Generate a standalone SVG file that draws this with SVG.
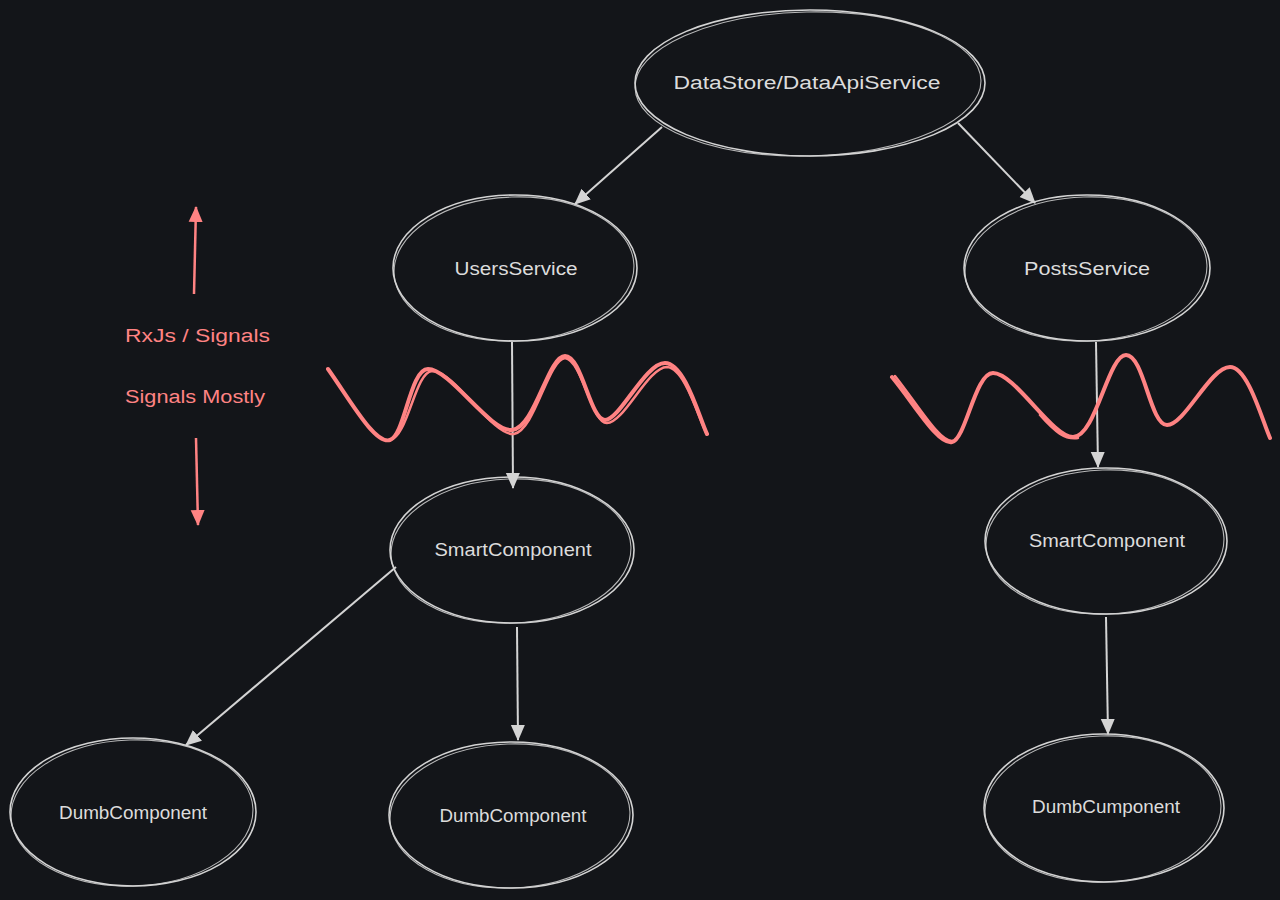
<svg xmlns="http://www.w3.org/2000/svg" width="1280" height="900" viewBox="0 0 1280 900">
<defs>
<marker id="ah" viewBox="0 0 10 10" refX="9" refY="5" markerWidth="7" markerHeight="7" orient="auto" markerUnits="userSpaceOnUse">
<path d="M0,0 L10,5 L0,10 z" fill="#d4d4d4"/>
</marker>
<marker id="ahr" viewBox="0 0 10 10" refX="9" refY="5" markerWidth="8" markerHeight="8" orient="auto" markerUnits="userSpaceOnUse">
<path d="M0,0 L10,5 L0,10 z" fill="#ff8383"/>
</marker>
<marker id="ah2" viewBox="0 0 16 16" refX="15" refY="8" markerWidth="16" markerHeight="16" orient="auto" markerUnits="userSpaceOnUse">
<path d="M0,1 L16,8 L0,15 z" fill="#d4d4d4"/>
</marker>
<marker id="ahr2" viewBox="0 0 16 16" refX="15" refY="8" markerWidth="16" markerHeight="16" orient="auto" markerUnits="userSpaceOnUse">
<path d="M0,1 L16,8 L0,15 z" fill="#ff8383"/>
</marker>
</defs>
<style>
.e{fill:none;stroke:#d4d4d4;stroke-width:1.6}
.e2{fill:none;stroke:#d4d4d4;stroke-width:1.1;opacity:0.85}
.t{font-family:"Liberation Sans","DejaVu Sans",sans-serif;font-size:18px;fill:#dcdcdc;text-anchor:middle}
.rt{font-family:"Liberation Sans","DejaVu Sans",sans-serif;font-size:18px;fill:#ff8383}
.c{fill:none;stroke:#d4d4d4;stroke-width:2}
.r{fill:none;stroke:#ff8383;stroke-width:2.5}
.w{fill:none;stroke:#ff8383;stroke-width:4;stroke-linecap:round;stroke-linejoin:round}
.w2{fill:none;stroke:#ff8383;stroke-width:2.5;stroke-linecap:round}
</style>
<rect width="1280" height="900" fill="#131519"/>

<g id="connectors">
<line class="c" x1="662" y1="127" x2="575" y2="204" marker-end="url(#ah2)"/>
<line class="c" x1="958" y1="123" x2="1035" y2="203" marker-end="url(#ah2)"/>
<line class="c" x1="512" y1="342" x2="513" y2="488" marker-end="url(#ah2)"/>
<line class="c" x1="1096" y1="342" x2="1098" y2="467" marker-end="url(#ah2)"/>
<line class="c" x1="396" y1="567" x2="186" y2="745" marker-end="url(#ah2)"/>
<line class="c" x1="517" y1="627" x2="518" y2="740" marker-end="url(#ah2)"/>
<line class="c" x1="1106" y1="617" x2="1108" y2="734" marker-end="url(#ah2)"/>
<line class="r" x1="194" y1="294" x2="196" y2="207" marker-end="url(#ahr2)"/>
<line class="r" x1="196" y1="438" x2="198" y2="525" marker-end="url(#ahr2)"/>
</g>

<g id="wave-left">
<path class="w" d="M328,369 C350,400 375,445 390,440 C405,435 410,369 428,369 C450,369 490,432 512,430 C535,428 548,356 565,356 C582,356 590,420 605,420 C620,420 645,363 665,363 C685,363 700,420 707,434"/>
<path class="w2" d="M390,440 C408,437 415,372 432,371 C455,371 492,436 514,434 C535,430 548,360 565,358 C582,360 592,424 607,423 C624,423 648,367 667,367 C686,368 700,424 707,434"/>
</g>
<g id="wave-right">
<path class="w" d="M892,377 C915,405 938,445 952,442 C966,439 975,373 993,373 C1015,373 1052,437 1073,437 C1096,437 1108,355 1126,355 C1144,355 1150,425 1167,425 C1185,425 1210,367 1230,367 C1248,367 1262,420 1270,438"/>
<path class="w2" d="M895,376 C918,405 940,443 953,441 M1040,415 C1055,432 1065,440 1078,438"/>
</g>

<g id="datastore">
<ellipse class="e" cx="810" cy="83" rx="175" ry="73"/>
<ellipse class="e2" cx="808" cy="84" rx="173" ry="72" transform="rotate(-1.2 808 84)"/>
<text class="t" x="807" y="89" textLength="267" lengthAdjust="spacingAndGlyphs">DataStore/DataApiService</text>
</g>
<g id="usersservice">
<ellipse class="e" cx="515" cy="268" rx="122" ry="73"/>
<ellipse class="e2" cx="514" cy="269" rx="120" ry="72" transform="rotate(-2 514 269)"/>
<text class="t" x="516" y="275" textLength="123" lengthAdjust="spacingAndGlyphs">UsersService</text>
</g>
<g id="postsservice">
<ellipse class="e" cx="1087" cy="268" rx="123" ry="73"/>
<ellipse class="e2" cx="1086" cy="269" rx="121" ry="72" transform="rotate(-2 1086 269)"/>
<text class="t" x="1087" y="275" textLength="126" lengthAdjust="spacingAndGlyphs">PostsService</text>
</g>
<g id="smart-left">
<ellipse class="e" cx="512" cy="550" rx="122" ry="73"/>
<ellipse class="e2" cx="511" cy="551" rx="120" ry="72" transform="rotate(-2 511 551)"/>
<text class="t" x="513" y="556" textLength="157" lengthAdjust="spacingAndGlyphs">SmartComponent</text>
</g>
<g id="smart-right">
<ellipse class="e" cx="1106" cy="541" rx="121" ry="73"/>
<ellipse class="e2" cx="1105" cy="542" rx="119" ry="72" transform="rotate(-2 1105 542)"/>
<text class="t" x="1107" y="547" textLength="156" lengthAdjust="spacingAndGlyphs">SmartComponent</text>
</g>
<g id="dumb-1">
<ellipse class="e" cx="133" cy="812" rx="123" ry="74"/>
<ellipse class="e2" cx="132" cy="813" rx="121" ry="73" transform="rotate(-2 132 813)"/>
<text class="t" x="133" y="819" textLength="148" lengthAdjust="spacingAndGlyphs">DumbComponent</text>
</g>
<g id="dumb-2">
<ellipse class="e" cx="511" cy="815" rx="122" ry="73"/>
<ellipse class="e2" cx="510" cy="816" rx="120" ry="72" transform="rotate(-2 510 816)"/>
<text class="t" x="513" y="822" textLength="147" lengthAdjust="spacingAndGlyphs">DumbComponent</text>
</g>
<g id="dumb-3">
<ellipse class="e" cx="1104" cy="808" rx="120" ry="74"/>
<ellipse class="e2" cx="1103" cy="809" rx="118" ry="73" transform="rotate(-2 1103 809)"/>
<text class="t" x="1106" y="813" textLength="148" lengthAdjust="spacingAndGlyphs">DumbCumponent</text>
</g>
<g id="labels">
<text class="rt" x="125" y="342" textLength="145" lengthAdjust="spacingAndGlyphs">RxJs / Signals</text>
<text class="rt" x="125" y="403" textLength="140" lengthAdjust="spacingAndGlyphs">Signals Mostly</text>
</g>
</svg>
